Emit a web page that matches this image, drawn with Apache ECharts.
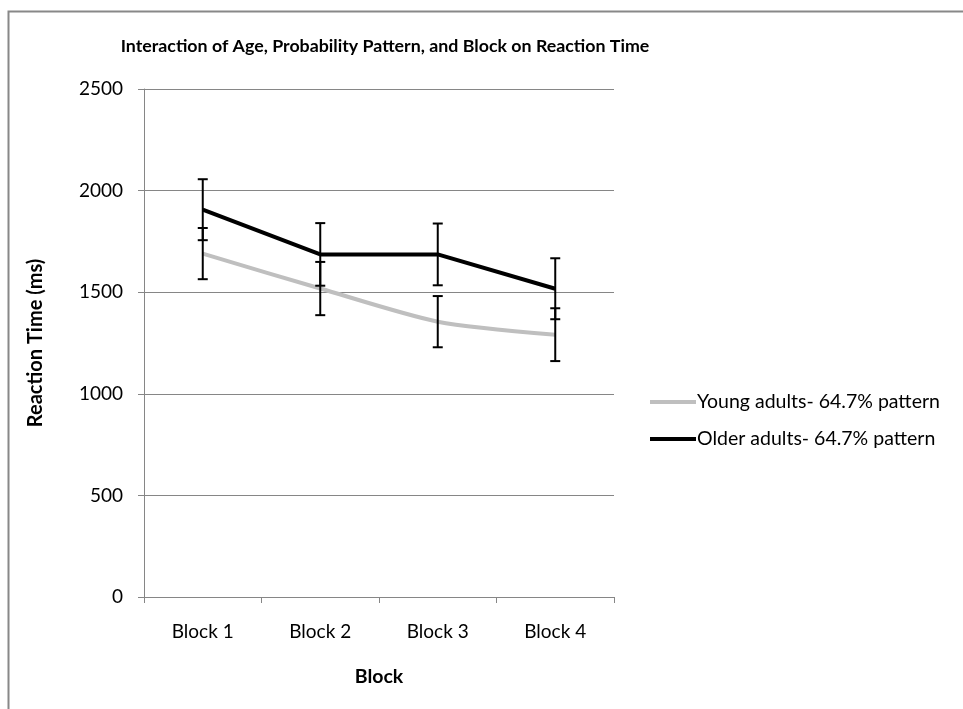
<!DOCTYPE html>
<html><head><meta charset="utf-8">
<script src="https://cdn.jsdelivr.net/npm/echarts@6/dist/echarts.min.js"></script>
<style>html,body{margin:0;padding:0;background:#fff}#c{width:963px;height:709px}</style>
</head><body><div id="c"></div>
<script>
const categories = ['Block 1', 'Block 2', 'Block 3', 'Block 4'];
const youngMean = [1690, 1518, 1355, 1291];
const youngErr = [126, 131, 126, 130];
const olderMean = [1906, 1686, 1686, 1517];
const olderErr = [150, 154, 152, 150];
const yTicks = [0, 500, 1000, 1500, 2000, 2500];

const FONT = 'Lato';
function errData(mean, err) { return mean.map((m, i) => [i, m - err[i], m + err[i]]); }
function errRender(params, api) {
  const x = api.value(0);
  const lo = api.coord([x, api.value(1)]);
  const hi = api.coord([x, api.value(2)]);
  const w = 5;
  const st = { stroke: '#000', lineWidth: 2 };
  return { type: 'group', children: [
    { type: 'line', shape: { x1: lo[0], y1: lo[1], x2: hi[0], y2: hi[1] }, style: st },
    { type: 'line', shape: { x1: lo[0] - w, y1: lo[1], x2: lo[0] + w, y2: lo[1] }, style: st },
    { type: 'line', shape: { x1: hi[0] - w, y1: hi[1], x2: hi[0] + w, y2: hi[1] }, style: st }
  ]};
}
const chart = echarts.init(document.getElementById('c'), null, { renderer: 'canvas' });
chart.setOption({
  animation: false,
  backgroundColor: '#fff',
  graphic: [{ type: 'rect', left: 6, top: 9, shape: { width: 980, height: 720 }, style: { fill: 'none', stroke: '#888', lineWidth: 2 }, silent: true }],
  title: { text: 'Interaction of Age, Probability Pattern, and Block on Reaction Time', left: 380, top: 32, textAlign: 'center',
    textStyle: { fontFamily: FONT, fontSize: 17.8, fontWeight: 'bold', color: '#000' } },
  grid: { left: 144, right: 349, top: 89, bottom: 112 },
  legend: { orient: 'vertical', left: 645, top: 387, itemWidth: 46, itemHeight: 4, itemGap: 17, icon: 'rect',
    textStyle: { fontFamily: FONT, fontSize: 19.5, color: '#000', padding: [0, 0, 0, -4] },
    data: ['Young adults- 64.7% pattern', 'Older adults- 64.7% pattern'] },
  xAxis: { type: 'category', data: categories, boundaryGap: true,
    name: 'Block', nameLocation: 'middle', nameGap: 70,
    nameTextStyle: { fontFamily: FONT, fontSize: 19.5, fontWeight: 'bold', color: '#000' },
    axisLine: { lineStyle: { color: '#868686', width: 1 } },
    axisTick: { show: true, length: 6, alignWithLabel: false, lineStyle: { color: '#868686' } },
    axisLabel: { fontFamily: FONT, fontSize: 19, color: '#000', margin: 25 } },
  yAxis: { type: 'value', min: 0, max: 2500, interval: 500,
    name: 'Reaction Time (ms)', nameLocation: 'middle', nameGap: 98, nameRotate: 90,
    nameTextStyle: { fontFamily: FONT, fontSize: 20, fontWeight: 'bold', color: '#000' },
    axisLine: { show: true, lineStyle: { color: '#868686', width: 1 } },
    axisTick: { show: true, length: 6, lineStyle: { color: '#868686' } },
    splitLine: { lineStyle: { color: '#868686', width: 1 } },
    axisLabel: { fontFamily: FONT, fontSize: 19, color: '#000', margin: 21,
      formatter: v => yTicks.includes(v) ? String(v) : '' } },
  series: [
    { name: 'Young adults- 64.7% pattern', type: 'line', data: youngMean, smooth: 0.25, symbol: 'none',
      lineStyle: { color: '#bfbfbf', width: 4 }, itemStyle: { color: '#bfbfbf' }, z: 2 },
    { name: 'Older adults- 64.7% pattern', type: 'line', data: olderMean, smooth: false, symbol: 'none',
      lineStyle: { color: '#000', width: 4 }, itemStyle: { color: '#000' }, z: 3 },
    { type: 'custom', renderItem: errRender, data: errData(youngMean, youngErr), z: 4, silent: true },
    { type: 'custom', renderItem: errRender, data: errData(olderMean, olderErr), z: 4, silent: true }
  ]
});
</script></body></html>
